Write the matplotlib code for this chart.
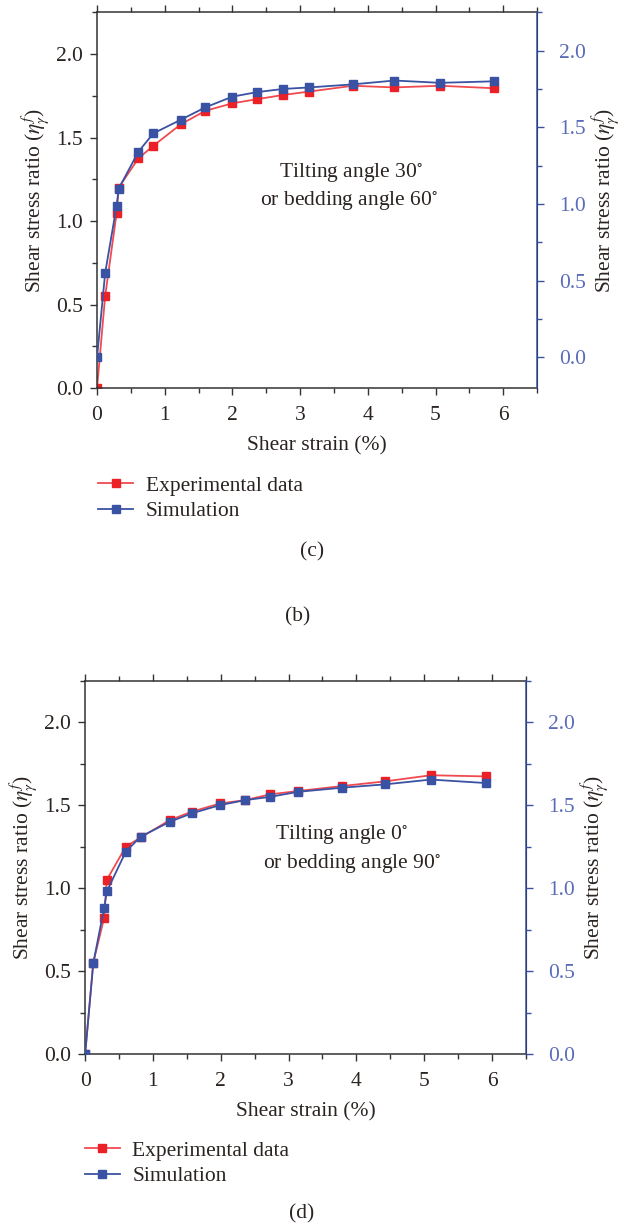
import numpy as np
import matplotlib.pyplot as plt
from matplotlib.ticker import MultipleLocator

plt.rcParams['font.family'] = ['Liberation Serif', 'DejaVu Serif']
plt.rcParams['mathtext.fontset'] = 'stix'
plt.rcParams['font.size'] = 15.5

# panel (c): tilting angle 30
strain_c = [0, 0.12, 0.29, 0.32, 0.61, 0.83, 1.24, 1.6, 2.0, 2.37, 2.75, 3.13, 3.78, 4.39, 5.07, 5.87]
exp_c = [0, 0.55, 1.05, 1.2, 1.375, 1.45, 1.58, 1.66, 1.705, 1.73, 1.755, 1.775, 1.81, 1.80, 1.81, 1.795]
sim_c = [0, 0.55, 0.99, 1.10, 1.34, 1.46, 1.55, 1.63, 1.70, 1.73, 1.75, 1.76, 1.78, 1.805, 1.79, 1.80]

# panel (d): tilting angle 0
strain_d = [0, 0.12, 0.28, 0.32, 0.6, 0.82, 1.25, 1.57, 1.99, 2.36, 2.73, 3.14, 3.79, 4.42, 5.1, 5.91]
exp_d = [0, 0.55, 0.82, 1.05, 1.25, 1.305, 1.41, 1.46, 1.51, 1.53, 1.565, 1.585, 1.615, 1.643, 1.68, 1.673]
sim_d = [0, 0.547, 0.88, 0.98, 1.22, 1.31, 1.40, 1.45, 1.50, 1.53, 1.55, 1.58, 1.605, 1.625, 1.654, 1.633]

RED = '#ec2027'
RED_LINE = '#f04a50'
BLUE = '#3a52a3'
BLUE_TXT = '#5a6cb8'
INK = '#2a2320'
YLAB = r'Shear stress ratio ($\eta_{\gamma}^{f}$)'

fig = plt.figure(figsize=(6.26, 12.28), dpi=100)


def panel(rect, x, exp, sim, right_lim, note1, note2, pos1, pos2, leg_xy):
    ax = fig.add_axes(rect)
    ax.plot(x, exp, color=RED_LINE, lw=1.3, marker='s', ms=6, mfc=RED, mec=RED,
            label='Experimental data')
    ax.set_xlim(0, 6.5)
    ax.set_ylim(0, 2.25)
    ax.xaxis.set_major_locator(MultipleLocator(1))
    ax.xaxis.set_minor_locator(MultipleLocator(0.5))
    ax.yaxis.set_major_locator(MultipleLocator(0.5))
    ax.yaxis.set_minor_locator(MultipleLocator(0.25))
    ax.tick_params(which='both', direction='out', top=True, right=False,
                   colors='#333333', labelcolor=INK, width=1)
    ax.tick_params(which='major', length=5)
    ax.tick_params(which='minor', length=3.5)
    ax.tick_params(axis='x', pad=8)
    ax.tick_params(axis='y', pad=5)
    for s in ['left', 'top', 'bottom']:
        ax.spines[s].set_color('#333333')
        ax.spines[s].set_linewidth(1.1)
    ax.set_xlabel('Shear strain (%)', color=INK, labelpad=8)
    ax.set_ylabel(YLAB, color=INK, labelpad=4)

    ax2 = ax.twinx()
    ax2.plot(x, sim, color=BLUE, lw=1.3, marker='s', ms=6, mfc=BLUE, mec=BLUE,
             label='Simulation')
    ax2.set_ylim(*right_lim)
    ax2.yaxis.set_major_locator(MultipleLocator(0.5))
    ax2.yaxis.set_minor_locator(MultipleLocator(0.25))
    ax2.tick_params(which='both', direction='out', colors=BLUE, labelcolor=BLUE_TXT, width=1)
    ax2.tick_params(which='major', length=5, pad=11)
    ax2.tick_params(which='minor', length=3.5)
    ax2.spines['right'].set_color(BLUE)
    ax2.spines['right'].set_linewidth(1.1)
    for s in ['left', 'top', 'bottom']:
        ax2.spines[s].set_visible(False)
    ax2.set_ylabel(YLAB, color=INK, labelpad=2)

    ax.text(pos1[0], pos1[1], note1, ha='center', va='center', color=INK)
    ax.text(pos2[0], pos2[1], note2, ha='center', va='center', color=INK)

    h1, l1 = ax.get_legend_handles_labels()
    h2, l2 = ax2.get_legend_handles_labels()
    fig.legend(h1 + h2, l1 + l2, loc='center left', bbox_to_anchor=leg_xy,
               frameon=False, borderpad=0, borderaxespad=0, handlelength=1.6,
               handletextpad=0.6, labelspacing=0.25, labelcolor=INK)
    return ax


panel([0.155, 0.684, 0.703, 0.306], strain_c, exp_c, sim_c, (-0.2, 2.25),
      r'Tilting angle 30$^{\circ}$', r'or bedding angle 60$^{\circ}$',
      (3.75, 1.287), (3.72, 1.116), (0.157, 0.594))
fig.text(0.498, 0.551, '(c)', ha='center', va='center', color=INK)
fig.text(0.476, 0.4976, '(b)', ha='center', va='center', color=INK)

panel([0.136, 0.1417, 0.704, 0.304], strain_d, exp_d, sim_d, (0, 2.25),
      r'Tilting angle 0$^{\circ}$', r'or bedding angle 90$^{\circ}$',
      (3.78, 1.32), (3.94, 1.14), (0.136, 0.0527))
fig.text(0.482, 0.0115, '(d)', ha='center', va='center', color=INK)

fig.savefig('out.png', dpi=100)
